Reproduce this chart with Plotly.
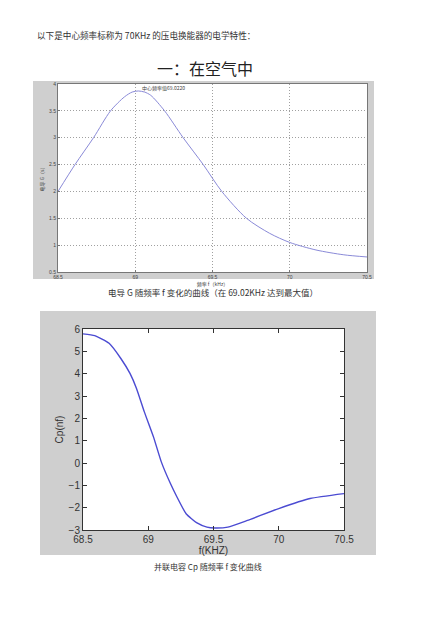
import plotly.graph_objects as go

W, H = 440, 620
PAGE_PAD = 8  # default body margin of the html page

# chart 1: conductance G vs frequency (in air)
freq_g = [68.5, 68.61, 68.73, 68.84, 68.93, 68.98, 69.02, 69.06, 69.10, 69.19, 69.31, 69.44,
          69.56, 69.72, 69.87, 70.0, 70.17, 70.35, 70.5]
g_vals = [2.0, 2.5, 3.0, 3.5, 3.76, 3.85, 3.87, 3.85, 3.79, 3.5, 3.0, 2.5,
          2.0, 1.5, 1.22, 1.05, 0.91, 0.82, 0.78]
g_xticks = [68.5, 69, 69.5, 70, 70.5]
g_yticks = [0.5, 1, 1.5, 2, 2.5, 3, 3.5, 4]
peak_f, peak_g = 69.022, 3.87

# chart 2: parallel capacitance Cp vs frequency
freq_cp = [68.5, 68.59, 68.70, 68.79, 68.86, 68.91, 68.97, 69.04, 69.10, 69.17,
           69.22, 69.29, 69.37, 69.45, 69.51, 69.61, 69.76, 70.0, 70.24, 70.5]
cp_vals = [5.78, 5.70, 5.36, 4.68, 4.01, 3.34, 2.29, 1.17, 0.05, -0.92,
           -1.52, -2.27, -2.67, -2.87, -2.91, -2.87, -2.57, -2.04, -1.59, -1.37]
cp_xticks = [68.5, 69, 69.5, 70, 70.5]
cp_yticks = [-3, -2, -1, 0, 1, 2, 3, 4, 5, 6]

CJK = "Noto Sans CJK SC"


def px_x(p):
    return (p - PAGE_PAD) / W


def px_y(p):
    return 1 - (p - PAGE_PAD) / H


fig = go.Figure()

fig.add_trace(go.Scatter(
    x=freq_g, y=g_vals, mode="lines",
    line=dict(color="#8a8ad8", width=1, shape="spline", smoothing=0.8),
    xaxis="x", yaxis="y", hoverinfo="skip",
))
fig.add_trace(go.Scatter(
    x=freq_cp, y=cp_vals, mode="lines",
    line=dict(color="#4b4bd2", width=1.4, shape="spline", smoothing=0.5),
    xaxis="x2", yaxis="y2", hoverinfo="skip",
))

small = dict(family="Liberation Sans", size=5, color="#444")
mid = dict(family="Liberation Sans", size=10, color="#333")
fig.update_layout(
    width=W,
    height=H,
    margin=dict(l=0, r=0, t=0, b=0),
    paper_bgcolor="white",
    plot_bgcolor="white",
    showlegend=False,
    xaxis=dict(
        domain=[px_x(58), px_x(367)], range=[68.5, 70.5], tickvals=g_xticks,
        ticktext=["68.5", "69", "69.5", "70", "70.5"],
        showgrid=True, gridcolor="#a0a0a0", griddash="1px,2px", gridwidth=1,
        showline=True, linecolor="#777", linewidth=1, mirror=True,
        ticks="inside", ticklen=2, tickcolor="#777", tickfont=small,
        zeroline=False, anchor="y", automargin=False,
        title=dict(text="频率 f（kHz）", font=dict(family=CJK, size=5, color="#444"), standoff=1),
    ),
    yaxis=dict(
        domain=[px_y(272), px_y(84)], range=[0.5, 4], tickvals=g_yticks,
        showgrid=True, gridcolor="#a0a0a0", griddash="1px,2px", gridwidth=1,
        showline=True, linecolor="#777", linewidth=1, mirror=True,
        ticks="inside", ticklen=2, tickcolor="#777", tickfont=small,
        zeroline=False, anchor="x", automargin=False,
        title=dict(text="电导 G（s）", font=dict(family=CJK, size=5, color="#444"), standoff=4),
    ),
    xaxis2=dict(
        domain=[px_x(83), px_x(344)], range=[68.5, 70.5], tickvals=cp_xticks,
        ticktext=["68.5", "69", "69.5", "70", "70.5"],
        showgrid=False, showline=True, linecolor="#333", linewidth=1, mirror="ticks",
        ticks="inside", ticklen=4, tickcolor="#333", tickfont=mid,
        zeroline=False, anchor="y2", automargin=False,
        title=dict(text="f(KHZ)", font=mid, standoff=2),
    ),
    yaxis2=dict(
        domain=[px_y(530), px_y(329)], range=[-3, 6], tickvals=cp_yticks,
        showgrid=False, showline=True, linecolor="#333", linewidth=1, mirror="ticks",
        ticks="inside", ticklen=4, tickcolor="#333", tickfont=mid,
        zeroline=False, anchor="x2", automargin=False,
        title=dict(text="Cp(nf)", font=mid, standoff=3),
    ),
)

# grey matlab-style figure frames with white plot areas on top
for (x0, y0, x1, y1) in [(33, 81, 374, 279), (40, 311, 376, 555)]:
    fig.add_shape(type="rect", xref="paper", yref="paper",
                  x0=px_x(x0), x1=px_x(x1), y0=px_y(y1), y1=px_y(y0),
                  fillcolor="#cfcfcf", line=dict(width=0), layer="below")
for (x0, y0, x1, y1) in [(58, 84, 367, 272), (83, 329, 344, 530)]:
    fig.add_shape(type="rect", xref="paper", yref="paper",
                  x0=px_x(x0), x1=px_x(x1), y0=px_y(y1), y1=px_y(y0),
                  fillcolor="white", line=dict(width=0), layer="below")

serif_cjk = dict(family=CJK, color="#333")
fig.add_annotation(
    text="以下是中心频率标称为 70KHz 的压电换能器的电学特性：",
    xref="paper", yref="paper", x=px_x(35), y=px_y(35), xanchor="left", yanchor="middle",
    showarrow=False, font=dict(size=8.6, **serif_cjk),
)
fig.add_annotation(
    text="一：在空气中", xref="paper", yref="paper", x=px_x(205), y=px_y(68),
    xanchor="center", yanchor="middle", showarrow=False, font=dict(size=16, family=CJK, color="#222"),
)
fig.add_annotation(
    text="中心频率值69.0220", x=peak_f, y=peak_g, xref="x", yref="y",
    xanchor="left", yanchor="bottom", xshift=1, yshift=-3, showarrow=False,
    font=dict(size=5, family=CJK, color="#444"),
)
fig.add_annotation(
    text="电导 G 随频率 f 变化的曲线（在 69.02KHz 达到最大值）",
    xref="paper", yref="paper", x=px_x(213), y=px_y(292), xanchor="center", yanchor="middle",
    showarrow=False, font=dict(size=8.5, **serif_cjk),
)
fig.add_annotation(
    text="并联电容 Cp 随频率 f 变化曲线",
    xref="paper", yref="paper", x=px_x(208), y=px_y(566), xanchor="center", yanchor="middle",
    showarrow=False, font=dict(size=8, **serif_cjk),
)

fig.write_html("out.html")
